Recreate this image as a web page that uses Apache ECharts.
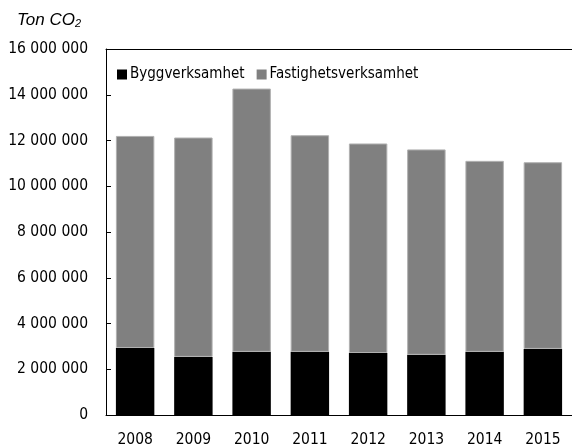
<!DOCTYPE html>
<html>
<head>
<meta charset="utf-8">
<script src="https://cdn.jsdelivr.net/npm/echarts@6/dist/echarts.min.js"></script>
<style>
  html, body { margin: 0; padding: 0; background: #fff; }
  #chart { width: 572px; height: 448px; }
</style>
</head>
<body>
<div id="chart"></div>
<script>
const years = ['2008', '2009', '2010', '2011', '2012', '2013', '2014', '2015']
const bygg = [2930000, 2540000, 2760000, 2760000, 2710000, 2630000, 2760000, 2890000]
const fastighet = [9270000, 9590000, 11510000, 9470000, 9160000, 8980000, 8350000, 8160000]

const font = "'DejaVu Sans Condensed', sans-serif"
const fmt = v => String(v).replace(/\B(?=(\d{3})+(?!\d))/g, ' ')

const chart = echarts.init(document.getElementById('chart'))
chart.setOption({
  animation: false,
  title: {
    text: '{a|Ton CO}{b|2}', left: 12, top: 4,
    textStyle: {
      rich: {
        a: { fontFamily: 'Liberation Sans, sans-serif', fontStyle: 'italic', fontWeight: 'normal', fontSize: 17, color: '#000', verticalAlign: 'bottom', lineHeight: 20 },
        b: { fontFamily: 'Liberation Sans, sans-serif', fontStyle: 'italic', fontWeight: 'normal', fontSize: 11, color: '#000', verticalAlign: 'bottom', lineHeight: 14 }
      }
    }
  },
  legend: {
    left: 112, top: 62, itemWidth: 10, itemHeight: 10, itemGap: 12,
    icon: 'rect',
    itemStyle: { borderWidth: 0 },
    textStyle: { fontFamily: font, fontSize: 15, color: '#000', padding: [0, 0, 0, -2] },
    data: ['Byggverksamhet', 'Fastighetsverksamhet']
  },
  grid: { left: 106, width: 472, top: 49, bottom: 32 },
  xAxis: [
    {
      type: 'category', data: years,
      axisLine: { lineStyle: { color: '#000', width: 1 } },
      axisTick: { inside: true, length: 6, lineStyle: { color: '#000' } },
      axisLabel: { fontFamily: font, fontSize: 15.5, color: '#000', margin: 17 }
    },
    {
      type: 'category', data: years, position: 'bottom',
      axisLine: { show: false },
      axisTick: { length: 4, lineStyle: { color: '#000' } },
      axisLabel: { show: false }
    },
    {
      type: 'category', data: years, position: 'top',
      axisLine: { lineStyle: { color: '#000', width: 1 } },
      axisTick: { show: false }, axisLabel: { show: false }
    }
  ],
  yAxis: {
    type: 'value', min: 0, max: 16000000, interval: 2000000,
    axisLine: { show: true, lineStyle: { color: '#000' } },
    axisTick: { show: true, inside: true, length: 5, lineStyle: { color: '#000' } },
    splitLine: { show: false },
    axisLabel: { fontFamily: font, fontSize: 15.5, color: '#000', margin: 18, formatter: fmt }
  },
  series: [
    {
      name: 'Byggverksamhet', type: 'bar', stack: 'tot', data: bygg,
      barCategoryGap: '34%',
      itemStyle: { color: '#000' }
    },
    {
      name: 'Fastighetsverksamhet', type: 'bar', stack: 'tot', data: fastighet,
      barCategoryGap: '34%',
      itemStyle: { color: '#808080', borderColor: '#b0b0b0', borderWidth: 1 }
    }
  ]
})
</script>
</body>
</html>
